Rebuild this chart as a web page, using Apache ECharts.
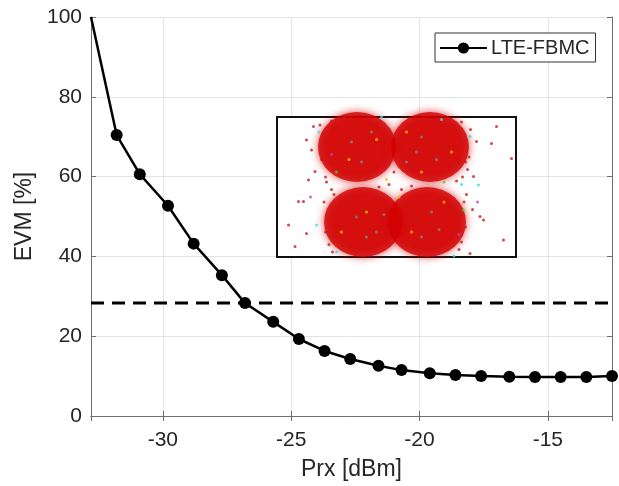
<!DOCTYPE html>
<html>
<head>
<meta charset="utf-8">
<script src="https://cdn.jsdelivr.net/npm/echarts@6/dist/echarts.min.js"></script>
<style>html,body{margin:0;padding:0;background:#fff}#c{width:619px;height:486px}</style>
</head>
<body>
<div id="c"></div>
<script>
// ---- data ----
const prx = [-32.8, -31.8, -30.9, -29.8, -28.8, -27.7, -26.8, -25.7, -24.7, -23.7, -22.7, -21.6, -20.7, -19.6, -18.6, -17.6, -16.5, -15.5, -14.5, -13.5, -12.5];
const evm = [100, 70.4, 60.6, 52.7, 43.2, 35.3, 28.3, 23.6, 19.3, 16.3, 14.3, 12.6, 11.5, 10.7, 10.3, 10.0, 9.85, 9.8, 9.8, 9.8, 10.0];
const xLimits = [-32.8, -12.5];
const yLimits = [0, 100];
const evmThreshold = 28.3;
const seriesName = 'LTE-FBMC';
// inset constellation (normalised I/Q units)
const clusterCenters = [[-0.79, 0.8], [0.67, 0.8], [-0.67, -0.7], [0.61, -0.7]];
const redEdgePts = [
  [-1.66, 1.21], [-1.53, 1.24], [-1.80, 0.94], [-1.70, 0.74], [-1.63, 0.31], [-1.76, 0.14],
  [-1.45, 1.05], [-1.5, 0.55], [-1.42, 0.2], [-1.3, 1.32], [-1.05, 1.4], [-1.48, 0.85],
  [-1.96, -0.29], [-1.86, -0.29], [-2.16, -0.76], [-2.03, -1.19], [-1.80, -0.93],
  [-1.45, -0.3], [-1.38, -0.55], [-1.42, -0.9], [-1.35, -1.15], [-1.25, -0.15],
  [2.0, 1.21], [1.90, 0.87], [2.30, 0.57], [1.60, 0.91], [1.54, 0.21], [1.67, -0.59],
  [1.74, -0.66], [2.14, -1.06], [1.47, -1.33], [1.45, 0.6], [1.42, 0.35], [1.48, 1.15],
  [1.35, -0.3], [1.38, -0.8], [1.3, -1.1], [1.52, -0.45], [1.2, 0.12], [1.3, 1.3],
  [-1.38, 0.95], [-1.35, 0.45], [-1.4, 0.1], [-1.3, -0.05], [-1.33, -0.75], [-1.28, -1.3],
  [1.35, 0.95], [1.38, 0.5], [1.32, 0.2], [1.3, -0.55], [1.25, -1.25], [1.4, -0.15],
  [-0.15, 0.05], [0.1, -0.05], [-0.05, 0.3], [0.05, -0.35], [-0.35, 0.0], [0.3, 0.02]
];
const cyanPts = [[-1.60, -0.76], [1.47, 1.01], [1.64, 0.04], [-1.55, 1.1], [-1.2, -1.3], [1.15, -1.38], [0.9, 1.35], [-0.3, 1.4], [1.3, 0.05]];
const yellowPts = [[-0.95, 0.55], [-0.4, 0.95], [0.2, 1.1], [0.5, 0.3], [-0.6, -0.5], [0.3, -0.9], [0.05, -0.2], [-0.2, 0.15], [0.95, -0.3], [1.1, 0.7], [-1.1, -0.9]];
const greenPts = [[1.34, -0.46], [0.95, 0.1], [-1.2, 0.3]];
const greyPts = [[-0.9, 0.9], [-0.5, 1.1], [-0.7, 0.5], [0.5, 1.0], [0.8, 0.55], [0.4, 0.7], [-0.8, -0.6], [-0.4, -0.9], [-0.6, -1.0], [0.7, -0.5], [0.5, -1.0], [0.85, -0.85], [0.2, 0.5], [-0.25, -0.55]];
const magentaPts = [[-1.72, -0.2], [1.62, -0.3], [-1.3, 0.65], [1.25, -0.95]];

const font = 'Liberation Sans, Arial, Helvetica, sans-serif';
const axisGrey = '#707070';
const txt = '#262626';

const mainData = prx.map((x, i) => i === 0 ? { value: [x, evm[i]], symbol: 'none' } : [x, evm[i]]);
const pts = a => a.map(p => [p[0], p[1]]);

const chart = echarts.init(document.getElementById('c'), null, { renderer: 'canvas' });
const insetAxisX = { gridIndex: 1, type: 'value', min: -2.39, max: 2.39, show: false };
const insetAxisY = { gridIndex: 1, type: 'value', min: -1.4, max: 1.4, show: false };
const dot = (name, data, color, size) => ({
  name, type: 'scatter', xAxisIndex: 2, yAxisIndex: 2, data: pts(data), symbolSize: size,
  itemStyle: { color }, z: 12, silent: true, animation: false
});

chart.setOption({
  animation: false,
  backgroundColor: '#fff',
  textStyle: { fontFamily: font },
  grid: [
    { left: 91, top: 17, right: 7, bottom: 70, containLabel: false, outerBoundsMode: 'none' },
    { left: 277, top: 117, width: 239, height: 140, show: true, backgroundColor: '#fff', borderColor: '#111', borderWidth: 2, z: 4, outerBoundsMode: 'none' }
  ],
  legend: {
    data: [seriesName], left: 435, top: 33, padding: [5, 6, 4, 4],
    itemWidth: 47, itemHeight: 14, itemGap: 0,
    borderColor: '#333', borderWidth: 1, backgroundColor: '#fff', borderRadius: 0,
    textStyle: { fontSize: 20, color: txt, fontFamily: font, padding: [0, 0, 0, -1] }
  },
  xAxis: [
    {
      type: 'value', min: xLimits[0], max: xLimits[1], splitNumber: 4,
      name: 'Prx [dBm]', nameLocation: 'middle', nameGap: 42,
      nameTextStyle: { fontSize: 23, color: txt, fontFamily: font },
      axisLine: { show: true, lineStyle: { color: axisGrey, width: 1 } },
      axisTick: { show: true, inside: true, length: 5, lineStyle: { color: axisGrey } },
      axisLabel: { fontSize: 21, color: txt, margin: 14, showMinLabel: false, showMaxLabel: false, fontFamily: font },
      splitLine: { show: true, lineStyle: { color: '#e4e4e4', width: 1 } }
    },
    {
      type: 'value', position: 'top', min: xLimits[0], max: xLimits[1], splitNumber: 4,
      axisLine: { show: true, lineStyle: { color: axisGrey, width: 1 } },
      axisTick: { show: true, inside: true, length: 5, lineStyle: { color: axisGrey } },
      axisLabel: { show: false }, splitLine: { show: false }
    },
    insetAxisX
  ],
  yAxis: [
    {
      type: 'value', min: yLimits[0], max: yLimits[1], interval: 20,
      name: 'EVM [%]', nameLocation: 'middle', nameGap: 53,
      nameTextStyle: { fontSize: 23, color: txt, fontFamily: font },
      axisLine: { show: true, lineStyle: { color: axisGrey, width: 1 } },
      axisTick: { show: true, inside: true, length: 5, lineStyle: { color: axisGrey } },
      axisLabel: { fontSize: 21, color: txt, margin: 9, fontFamily: font },
      splitLine: { show: true, lineStyle: { color: '#e4e4e4', width: 1 } }
    },
    {
      type: 'value', position: 'right', min: yLimits[0], max: yLimits[1], interval: 20,
      axisLine: { show: true, lineStyle: { color: axisGrey, width: 1 } },
      axisTick: { show: true, inside: true, length: 5, lineStyle: { color: axisGrey } },
      axisLabel: { show: false }, splitLine: { show: false }
    },
    insetAxisY
  ],
  series: [
    {
      name: 'threshold', type: 'line', xAxisIndex: 0, yAxisIndex: 0,
      data: [[xLimits[0], evmThreshold], [xLimits[1], evmThreshold]],
      showSymbol: false, symbol: 'none',
      lineStyle: { color: '#000', width: 3, type: [13, 8] }, z: 3, silent: true
    },
    {
      name: seriesName, type: 'line', xAxisIndex: 0, yAxisIndex: 0, data: mainData,
      symbol: 'circle', symbolSize: 12, showAllSymbol: true, clip: false,
      lineStyle: { color: '#000', width: 2.5 }, itemStyle: { color: '#000' }, z: 5
    },
    {
      name: 'clusters', type: 'scatter', xAxisIndex: 2, yAxisIndex: 2, data: pts(clusterCenters),
      symbol: 'circle', symbolSize: [78, 70],
      itemStyle: { color: '#d20000', shadowBlur: 9, shadowColor: 'rgba(210,0,0,0.9)' },
      z: 10, silent: true
    },
    dot('edge', redEdgePts, '#c81a1a', 3),
    dot('grey', greyPts, '#7a8a86', 3),
    dot('yellow', yellowPts, '#f2c200', 3),
    dot('cyan', cyanPts, '#30dfe0', 3),
    dot('green', greenPts, '#3fd23f', 3),
    dot('magenta', magentaPts, '#c040c0', 3)
  ]
});
</script>
</body>
</html>
